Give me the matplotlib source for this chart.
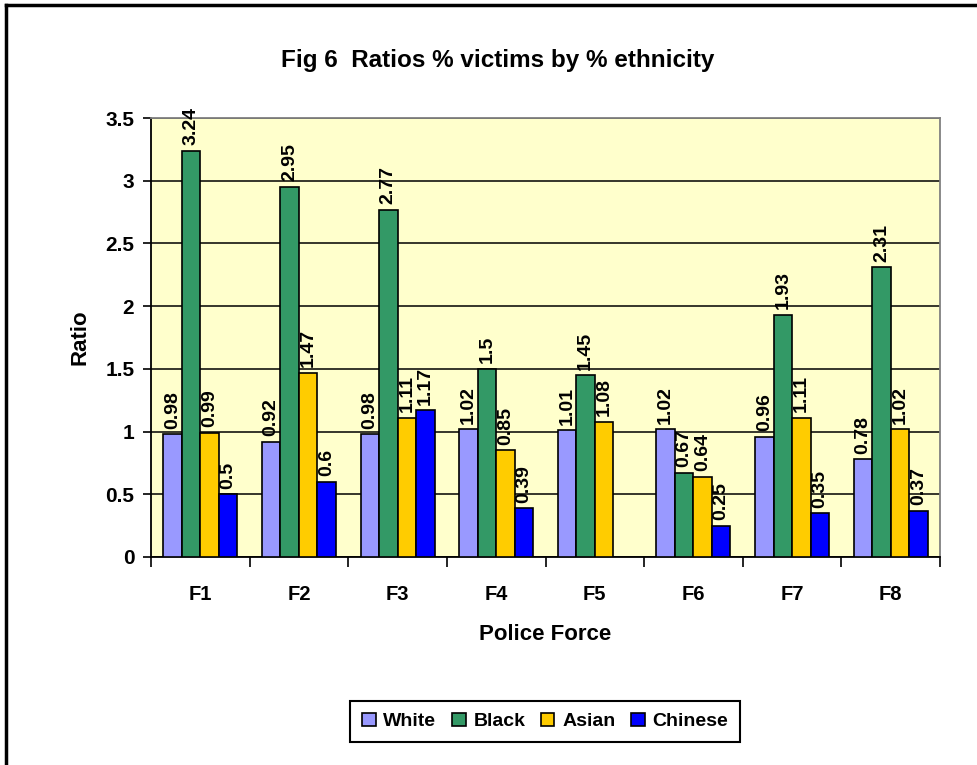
import numpy as np
import matplotlib.pyplot as plt
from matplotlib.lines import Line2D

plt.rcParams['font.family'] = ['Liberation Sans', 'DejaVu Sans']
plt.rcParams['font.weight'] = 'bold'

forces = ['F1', 'F2', 'F3', 'F4', 'F5', 'F6', 'F7', 'F8']
white = [0.98, 0.92, 0.98, 1.02, 1.01, 1.02, 0.96, 0.78]
black = [3.24, 2.95, 2.77, 1.5, 1.45, 0.67, 1.93, 2.31]
asian = [0.99, 1.47, 1.11, 0.85, 1.08, 0.64, 1.11, 1.02]
chinese = [0.5, 0.6, 1.17, 0.39, None, 0.25, 0.35, 0.37]

series = [('White', white, '#9999FF'),
          ('Black', black, '#339966'),
          ('Asian', asian, '#FFCC00'),
          ('Chinese', chinese, '#0000FF')]

fig = plt.figure(figsize=(9.78, 7.65), dpi=100)
ax = fig.add_axes([151/978, 1-557/765, (940-151)/978, (557-118)/765])
ax.set_facecolor('#FFFFCC')

x = np.arange(len(forces))
w = 0.1875
for i, (name, vals, col) in enumerate(series):
    xs = [xx for xx, v in zip(x, vals) if v is not None]
    vs = [v for v in vals if v is not None]
    pos = np.array(xs) + (i - 1.5) * w
    bars = ax.bar(pos, vs, width=w, color=col, edgecolor='black', linewidth=1.2,
                  label=name, zorder=3)
    for b, v in zip(bars, vs):
        ax.annotate('{:g}'.format(v), (b.get_x() + b.get_width()/2, v),
                    xytext=(0, 4), textcoords='offset points', rotation=90,
                    ha='center', va='bottom', fontsize=14, fontweight='bold',
                    zorder=4)

ax.set_xlim(-0.5, len(forces) - 0.5)
ax.set_ylim(0, 3.5)
ax.set_yticks(np.arange(0, 3.51, 0.5))
ax.set_yticklabels(['0', '0.5', '1', '1.5', '2', '2.5', '3', '3.5'])
ax.yaxis.grid(True, color='black', linewidth=1.1, zorder=0)
ax.set_axisbelow(True)

ax.set_xticks(np.arange(-0.5, len(forces), 1))
ax.set_xticklabels([])
ax.set_xticks(x, minor=True)
ax.set_xticklabels(forces, minor=True)
ax.tick_params(axis='x', which='major', direction='out', length=7, width=1.2)
ax.tick_params(axis='x', which='minor', length=0, pad=20, labelsize=14.5)
ax.tick_params(axis='y', direction='out', length=6, width=1.2, labelsize=15, pad=6)

for s in ['left', 'bottom']:
    ax.spines[s].set_color('black')
    ax.spines[s].set_linewidth(1.3)
for s in ['top', 'right']:
    ax.spines[s].set_color('#808080')
    ax.spines[s].set_linewidth(1.3)

fig.text(498/978, 1-60/765, 'Fig 6  Ratios % victims by % ethnicity',
         ha='center', va='center', fontsize=17.5, fontweight='bold')
fig.text(80/978, 1-337/765, 'Ratio', rotation=90, ha='center', va='center',
         fontsize=16, fontweight='bold')
fig.text(545/978, 1-634/765, 'Police Force', ha='center', va='center',
         fontsize=16, fontweight='bold')

leg = fig.legend(loc='center', bbox_to_anchor=(545/978, 1-721.5/765), ncol=4,
                 fancybox=False, edgecolor='black', framealpha=1,
                 handlelength=0.7, handleheight=0.7, handletextpad=0.4,
                 columnspacing=0.8, borderpad=0.6, fontsize=14)
leg.get_frame().set_linewidth(1.5)

# outer chart frame
fig.add_artist(Line2D([6/978, 6/978], [0, 1-5/765], transform=fig.transFigure,
                      color='black', linewidth=2.5))
fig.add_artist(Line2D([6/978, 1], [1-5/765, 1-5/765], transform=fig.transFigure,
                      color='black', linewidth=2.5))

fig.savefig('out.png', dpi=100)
